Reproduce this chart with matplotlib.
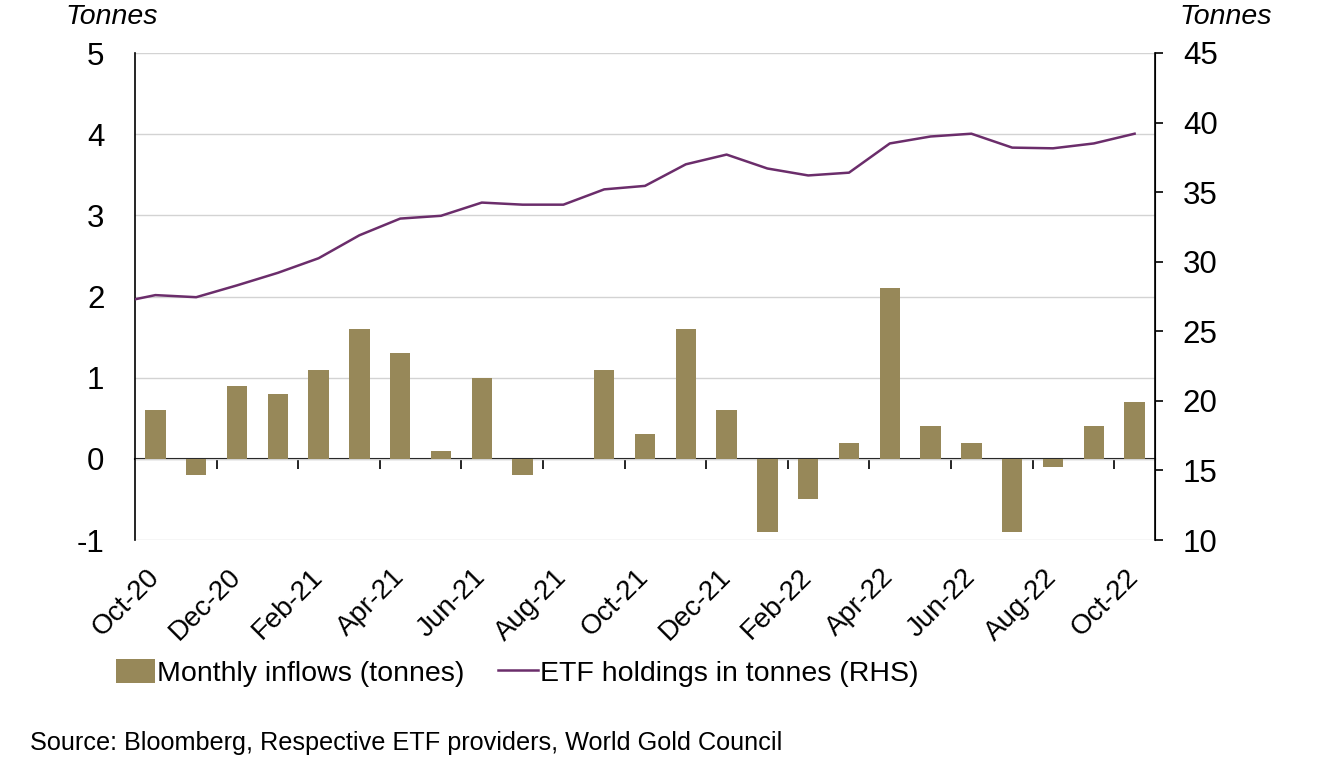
import matplotlib
matplotlib.use("Agg")
import matplotlib.pyplot as plt
import numpy as np

plt.rcParams["font.family"] = ["Liberation Sans", "DejaVu Sans"]
plt.rcParams["axes.unicode_minus"] = False

# Monthly data, Oct-20 .. Oct-22
months = [
    "Oct-20", "Nov-20", "Dec-20", "Jan-21", "Feb-21", "Mar-21", "Apr-21",
    "May-21", "Jun-21", "Jul-21", "Aug-21", "Sep-21", "Oct-21", "Nov-21",
    "Dec-21", "Jan-22", "Feb-22", "Mar-22", "Apr-22", "May-22", "Jun-22",
    "Jul-22", "Aug-22", "Sep-22", "Oct-22",
]
inflows = [
    0.6, -0.2, 0.9, 0.8, 1.1, 1.6, 1.3, 0.1, 1.0, -0.2, 0.0, 1.1, 0.3,
    1.6, 0.6, -0.9, -0.5, 0.2, 2.1, 0.4, 0.2, -0.9, -0.1, 0.4, 0.7,
]
# holdings include the Sep-20 value, which falls just left of the plot
holdings_prev = 27.0
holdings = [
    27.6, 27.45, 28.3, 29.2, 30.25, 31.9, 33.1, 33.3, 34.25, 34.1, 34.1,
    35.2, 35.45, 37.0, 37.7, 36.7, 36.2, 36.4, 38.5, 39.0, 39.2, 38.2,
    38.15, 38.5, 39.2,
]

bar_color = "#978859"
line_color = "#6b2d6b"

fig = plt.figure(figsize=(13.25, 7.8), dpi=100)
ax = fig.add_axes([135 / 1325, 1 - 540 / 780, 1020 / 1325, 487 / 780])
ax2 = ax.twinx()

x = np.arange(len(months))
ax.bar(x, inflows, width=0.5, color=bar_color, zorder=3,
       label="Monthly inflows (tonnes)")

x_line = np.concatenate([[-1], x])
y_line = np.concatenate([[holdings_prev], holdings])
ax2.plot(x_line, y_line, color=line_color, lw=1.8, zorder=4,
         label="ETF holdings in tonnes (RHS)")

ax.set_xlim(-0.5, len(months) - 0.5)
ax.set_ylim(-1, 5)
ax2.set_ylim(10, 45)

# left axis
ax.set_yticks(np.arange(-1, 6, 1))
ax.tick_params(axis="y", length=0, labelsize=22.5, pad=22)
ax.yaxis.grid(True, color="#d3d3d3", lw=1, zorder=0)
ax.set_axisbelow(True)

# right axis
ax2.set_yticks(np.arange(10, 46, 5))
ax2.tick_params(axis="y", direction="out", length=6, width=1.2,
                labelsize=22.5, pad=14)

for a in (ax, ax2):
    a.spines["top"].set_visible(False)
    a.spines["bottom"].set_visible(False)
ax.spines["left"].set_linewidth(1.2)
ax2.spines["right"].set_linewidth(1.2)
ax2.spines["left"].set_visible(False)

# x labels every two months
ax.set_xticks(x[::2])
ax.set_xticklabels(months[::2], rotation=45, ha="right",
                   rotation_mode="anchor", va="center", fontsize=20)
ax.tick_params(axis="x", length=0, pad=24)

# zero line with tick marks between months
zero_axis = ax.secondary_xaxis(1 / 6)
zero_axis.spines["bottom"].set_linewidth(1.5)
zero_axis.spines["bottom"].set_zorder(5)
zero_axis.set_xticks(x[1:-1:2] + 0.5)
zero_axis.set_xticklabels([])
zero_axis.tick_params(axis="x", direction="out", length=7, width=1.2)

fig.text(112 / 1325, 1 - 17 / 780, "Tonnes", fontsize=20.5, style="italic",
         ha="center", va="center")
fig.text(1226 / 1325, 1 - 17 / 780, "Tonnes", fontsize=20.5, style="italic",
         ha="center", va="center")

h1, l1 = ax.get_legend_handles_labels()
h2, l2 = ax2.get_legend_handles_labels()
fig.legend(h1 + h2, l1 + l2, loc="center left", ncol=2,
           bbox_to_anchor=(90 / 1325, 1 - 673 / 780), frameon=False,
           fontsize=20.5, handlelength=1.4, handleheight=0.9,
           handletextpad=0.05, columnspacing=1.2)

fig.text(30 / 1325, 1 - 743 / 780,
         "Source: Bloomberg, Respective ETF providers, World Gold Council",
         fontsize=18.2, ha="left", va="center")

fig.savefig("out.png", dpi=100)
